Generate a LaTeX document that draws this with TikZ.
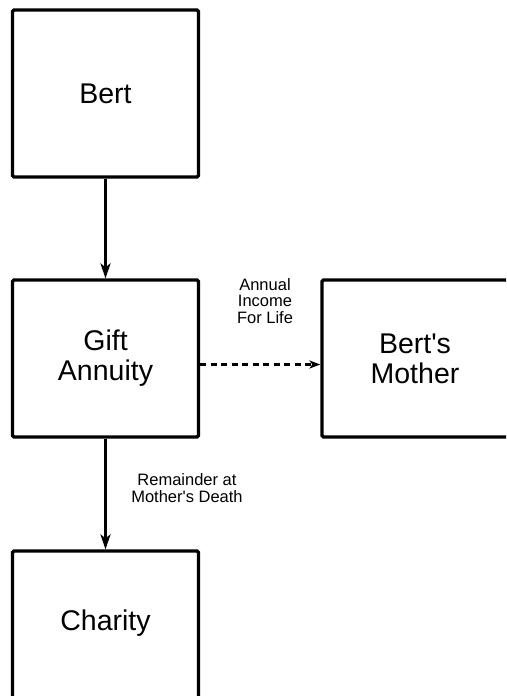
\documentclass[tikz,border=0pt]{standalone}
\usepackage{fontspec}
\setmainfont{Liberation Sans}
\usetikzlibrary{arrows.meta}

\tikzset{
  box/.style={draw, line width=3.2pt, rounded corners=1.5pt, minimum width=186pt, inner sep=0pt, align=center, font=\fontsize{28.5}{30}\selectfont},
  boxtext/.style={align=center, font=\fontsize{28.5}{30}\selectfont},
  smalltext/.style={align=center, font=\fontsize{16.5}{16.5}\selectfont},
  flow/.style={line width=2.8pt, -{Stealth[length=15pt,width=10pt,inset=4pt]}},
  dashflow/.style={line width=2.8pt, dash pattern=on 6pt off 4.5pt, -{Stealth[length=11pt,width=8pt,inset=3pt]}}
}

\begin{document}
\begin{tikzpicture}[x=1pt,y=-1pt]
\useasboundingbox (0,0) rectangle (506,696);
\clip (0,0) rectangle (506,696);
% boxes
\node[box, minimum height=167pt] (bert) at (105.5,93.5) {Bert};
\node[box, minimum height=157pt] (gift) at (105.5,358.5) {Gift\\Annuity};
\node[box, minimum height=157pt] (mother) at (415,358.5) {Bert\textquotesingle s\\Mother};
\node[box, minimum height=157pt] (charity) at (105.5,629.5) {};
\node[boxtext] (charitylbl) at (105.5,623) {Charity};
% connectors
\draw[flow] (bert) -- (gift);
\draw[dashflow] ([yshift=-6pt]gift.east) -- ([yshift=-6pt]mother.west);
\draw[flow] (gift) -- (charity);
% labels
\node[smalltext] (incomelbl) at (265,301) {Annual\\Income\\For Life};
\node[smalltext] (remainderlbl) at (187,488) {Remainder at\\Mother\textquotesingle s Death};
\end{tikzpicture}
\end{document}
